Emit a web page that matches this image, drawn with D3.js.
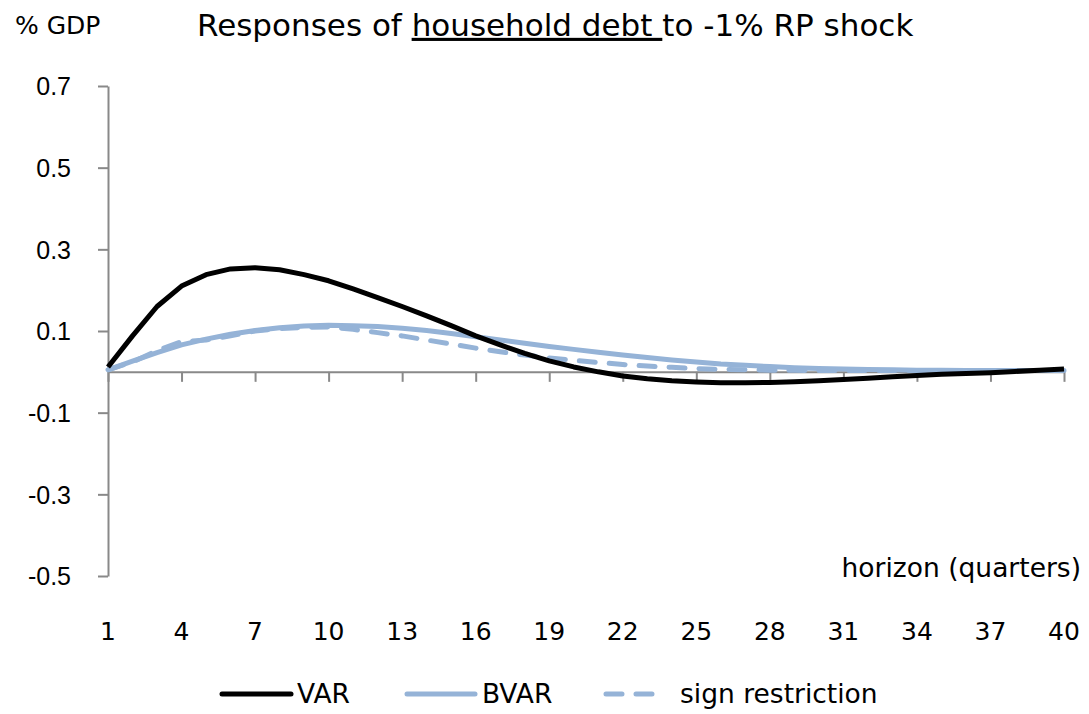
<!DOCTYPE html>
<html>
<head>
<meta charset="utf-8">
<script src="https://cdn.jsdelivr.net/npm/d3@7"></script>
<style>
  body { margin: 0; background: #fff; }
  svg { display: block; font-family: "DejaVu Sans", "Noto Sans", sans-serif; }
</style>
</head>
<body>
<svg id="chart" width="1089" height="714"></svg>
<script>
const quarters = d3.range(1, 41);
const xTickValues = [1, 4, 7, 10, 13, 16, 19, 22, 25, 28, 31, 34, 37, 40];
const yTickValues = [-0.5, -0.3, -0.1, 0.1, 0.3, 0.5, 0.7];

const varSeries = [0.012, 0.088, 0.16, 0.21, 0.238, 0.252, 0.255, 0.25, 0.238, 0.223,
  0.203, 0.182, 0.16, 0.137, 0.113, 0.088, 0.066, 0.045, 0.027, 0.012,
  0.0, -0.01, -0.017, -0.022, -0.025, -0.027, -0.027, -0.026, -0.024, -0.022,
  -0.019, -0.016, -0.012, -0.009, -0.006, -0.004, -0.002, 0.001, 0.004, 0.007];
const bvarSeries = [0.005, 0.026, 0.047, 0.066, 0.08, 0.092, 0.101, 0.108, 0.112, 0.114,
  0.113, 0.111, 0.107, 0.101, 0.094, 0.086, 0.078, 0.07, 0.062, 0.055,
  0.048, 0.041, 0.035, 0.029, 0.024, 0.019, 0.016, 0.013, 0.01, 0.008,
  0.007, 0.006, 0.005, 0.004, 0.004, 0.003, 0.003, 0.003, 0.003, 0.003];
const signSeries = [0.005, 0.024, 0.052, 0.074, 0.078, 0.088, 0.1, 0.106, 0.109, 0.11,
  0.104, 0.096, 0.088, 0.078, 0.068, 0.058, 0.049, 0.041, 0.034, 0.028,
  0.023, 0.018, 0.014, 0.011, 0.008, 0.006, 0.005, 0.004, 0.004, 0.003,
  0.003, 0.003, 0.003, 0.003, 0.003, 0.003, 0.003, 0.003, 0.003, 0.003];

const seriesNames = ["VAR", "BVAR", "sign restriction"];

const svg = d3.select("#chart");
const axisColor = "#898989";
const blue = "#95B3D7";

const x = d3.scaleLinear().domain([1, 40]).range([108, 1064]);
const y = d3.scaleLinear().domain([-0.5, 0.7]).range([576, 86]);

// Y axis
const yAxis = svg.append("g").attr("transform", "translate(108,0)")
  .call(d3.axisLeft(y).tickValues(yTickValues).tickFormat(d => d.toFixed(1))
    .tickSizeInner(10).tickSizeOuter(0).tickPadding(27));
yAxis.select(".domain").attr("stroke", axisColor).attr("stroke-width", 2);
yAxis.selectAll(".tick line").attr("stroke", axisColor).attr("stroke-width", 2);
yAxis.selectAll(".tick text").attr("font-size", 25).attr("fill", "#000").attr("dy", "0.35em");

// X axis at zero
const xAxis = svg.append("g").attr("transform", `translate(0,${y(0)})`)
  .call(d3.axisBottom(x).tickValues(xTickValues).tickFormat("")
    .tickSizeInner(10).tickSizeOuter(0));
xAxis.select(".domain").attr("stroke", axisColor).attr("stroke-width", 2);
xAxis.selectAll(".tick line").attr("stroke", axisColor).attr("stroke-width", 2);

// X tick labels at bottom
svg.append("g").selectAll("text").data(xTickValues).join("text")
  .attr("x", d => x(d)).attr("y", 631).attr("dy", "0.35em")
  .attr("text-anchor", "middle").attr("font-size", 25).text(d => d);

// Lines
const line = d3.line().x((d, i) => x(quarters[i])).y(d => y(d));
svg.append("path").datum(bvarSeries).attr("d", line)
  .attr("fill", "none").attr("stroke", blue).attr("stroke-width", 5).attr("stroke-linejoin", "round");
svg.append("path").datum(signSeries).attr("d", line)
  .attr("fill", "none").attr("stroke", blue).attr("stroke-width", 5)
  .attr("stroke-dasharray", "16,14").attr("stroke-linecap", "round");
svg.append("path").datum(varSeries).attr("d", line)
  .attr("fill", "none").attr("stroke", "#000").attr("stroke-width", 5).attr("stroke-linejoin", "round");

// Title
const title = svg.append("text").attr("x", 197).attr("y", 25).attr("dy", "0.35em")
  .attr("text-anchor", "start").attr("font-size", 31);
title.append("tspan").text("Responses of ");
title.append("tspan").attr("text-decoration", "underline").text("household debt\u00A0");
title.append("tspan").text("to -1% RP shock");

svg.append("text").attr("x", 15).attr("y", 25).attr("dy", "0.35em")
  .attr("font-size", 25).text("% GDP");

svg.append("text").attr("x", 1081).attr("y", 568).attr("dy", "0.35em")
  .attr("text-anchor", "end").attr("font-size", 26.5).text("horizon (quarters)");

// Legend
const legendItems = [
  { name: seriesNames[0], color: "#000", dash: null, x1: 222, x2: 291, tx: 297 },
  { name: seriesNames[1], color: blue, dash: null, x1: 407, x2: 475, tx: 482 },
  { name: seriesNames[2], color: blue, dash: "16,14", x1: 606, x2: 656, tx: 680 }
];
const lg = svg.append("g");
legendItems.forEach(it => {
  lg.append("line").attr("x1", it.x1).attr("x2", it.x2).attr("y1", 694).attr("y2", 694)
    .attr("stroke", it.color).attr("stroke-width", 5).attr("stroke-linecap", "round")
    .attr("stroke-dasharray", it.dash);
  lg.append("text").attr("x", it.tx).attr("y", 694).attr("dy", "0.35em")
    .attr("font-size", 26.5).text(it.name);
});
</script>
</body>
</html>
